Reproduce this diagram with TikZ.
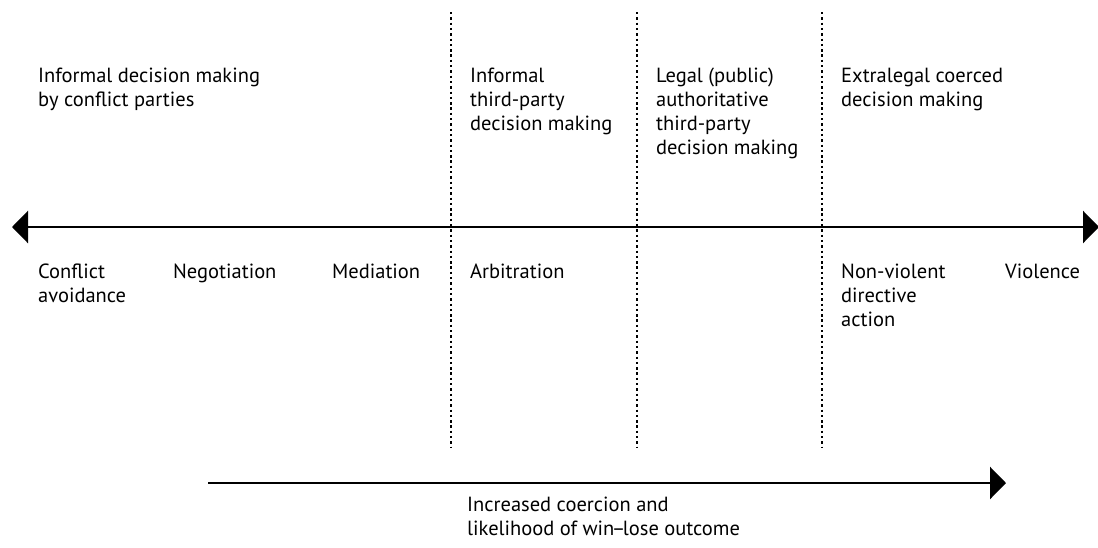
\documentclass[tikz,border=0pt]{standalone}
\usepackage{fontspec}
\setmainfont{PT Sans}
\usetikzlibrary{arrows.meta}
\newcommand{\lines}[1]{\begin{tabular}[t]{@{}l@{}}#1\end{tabular}}
\begin{document}
\begin{tikzpicture}[x=1pt,y=-1pt,
  lbl/.style={anchor=base west,inner sep=0pt,font=\fontsize{20.5}{24}\selectfont},
  axis/.style={line width=2.5pt,{Triangle[length=16pt,width=32pt]}-{Triangle[length=16pt,width=32pt]}},
  fwd/.style={line width=2.5pt,-{Triangle[length=16pt,width=32pt]}},
  sep/.style={line width=2.4pt,dash pattern=on 2.4pt off 2.9pt}]
\useasboundingbox (0,0) rectangle (1098,547);
% axis
\coordinate (aL) at (12,227);
\coordinate (aR) at (1099,227);
\draw[axis] (aL) -- (aR);
% separators
\coordinate (s1t) at (451,12); \coordinate (s1b) at (451,448);
\coordinate (s2t) at (637,12); \coordinate (s2b) at (637,448);
\coordinate (s3t) at (822,12); \coordinate (s3b) at (822,448);
\draw[sep] (s1t) -- (s1b);
\draw[sep] (s2t) -- (s2b);
\draw[sep] (s3t) -- (s3b);
% top labels
\node[lbl] (t1) at (38,82) {\lines{Informal decision making\\by conflict parties}};
\node[lbl] (t2) at (470,82) {\lines{Informal\\third-party\\decision making}};
\node[lbl] (t3) at (656,82) {\lines{Legal (public)\\authoritative\\third-party\\decision making}};
\node[lbl] (t4) at (841,82) {\lines{Extralegal coerced\\decision making}};
% bottom labels
\node[lbl] (b1) at (38,278) {\lines{Conflict\\avoidance}};
\node[lbl] (b2) at (173,278) {Negotiation};
\node[lbl] (b3) at (332,278) {Mediation};
\node[lbl] (b4) at (470,278) {Arbitration};
\node[lbl] (b5) at (841,278) {\lines{Non-violent\\directive\\action}};
\node[lbl] (b6) at (1005,278) {Violence};
% coercion arrow
\coordinate (cS) at (208,483);
\coordinate (cE) at (1006,483);
\draw[fwd] (cS) -- (cE);
\node[lbl] (c) at (467,511) {\lines{Increased coercion and\\likelihood of win\kern-2.5pt\textendash\kern-2.5pt lose outcome}};
\end{tikzpicture}
\end{document}
